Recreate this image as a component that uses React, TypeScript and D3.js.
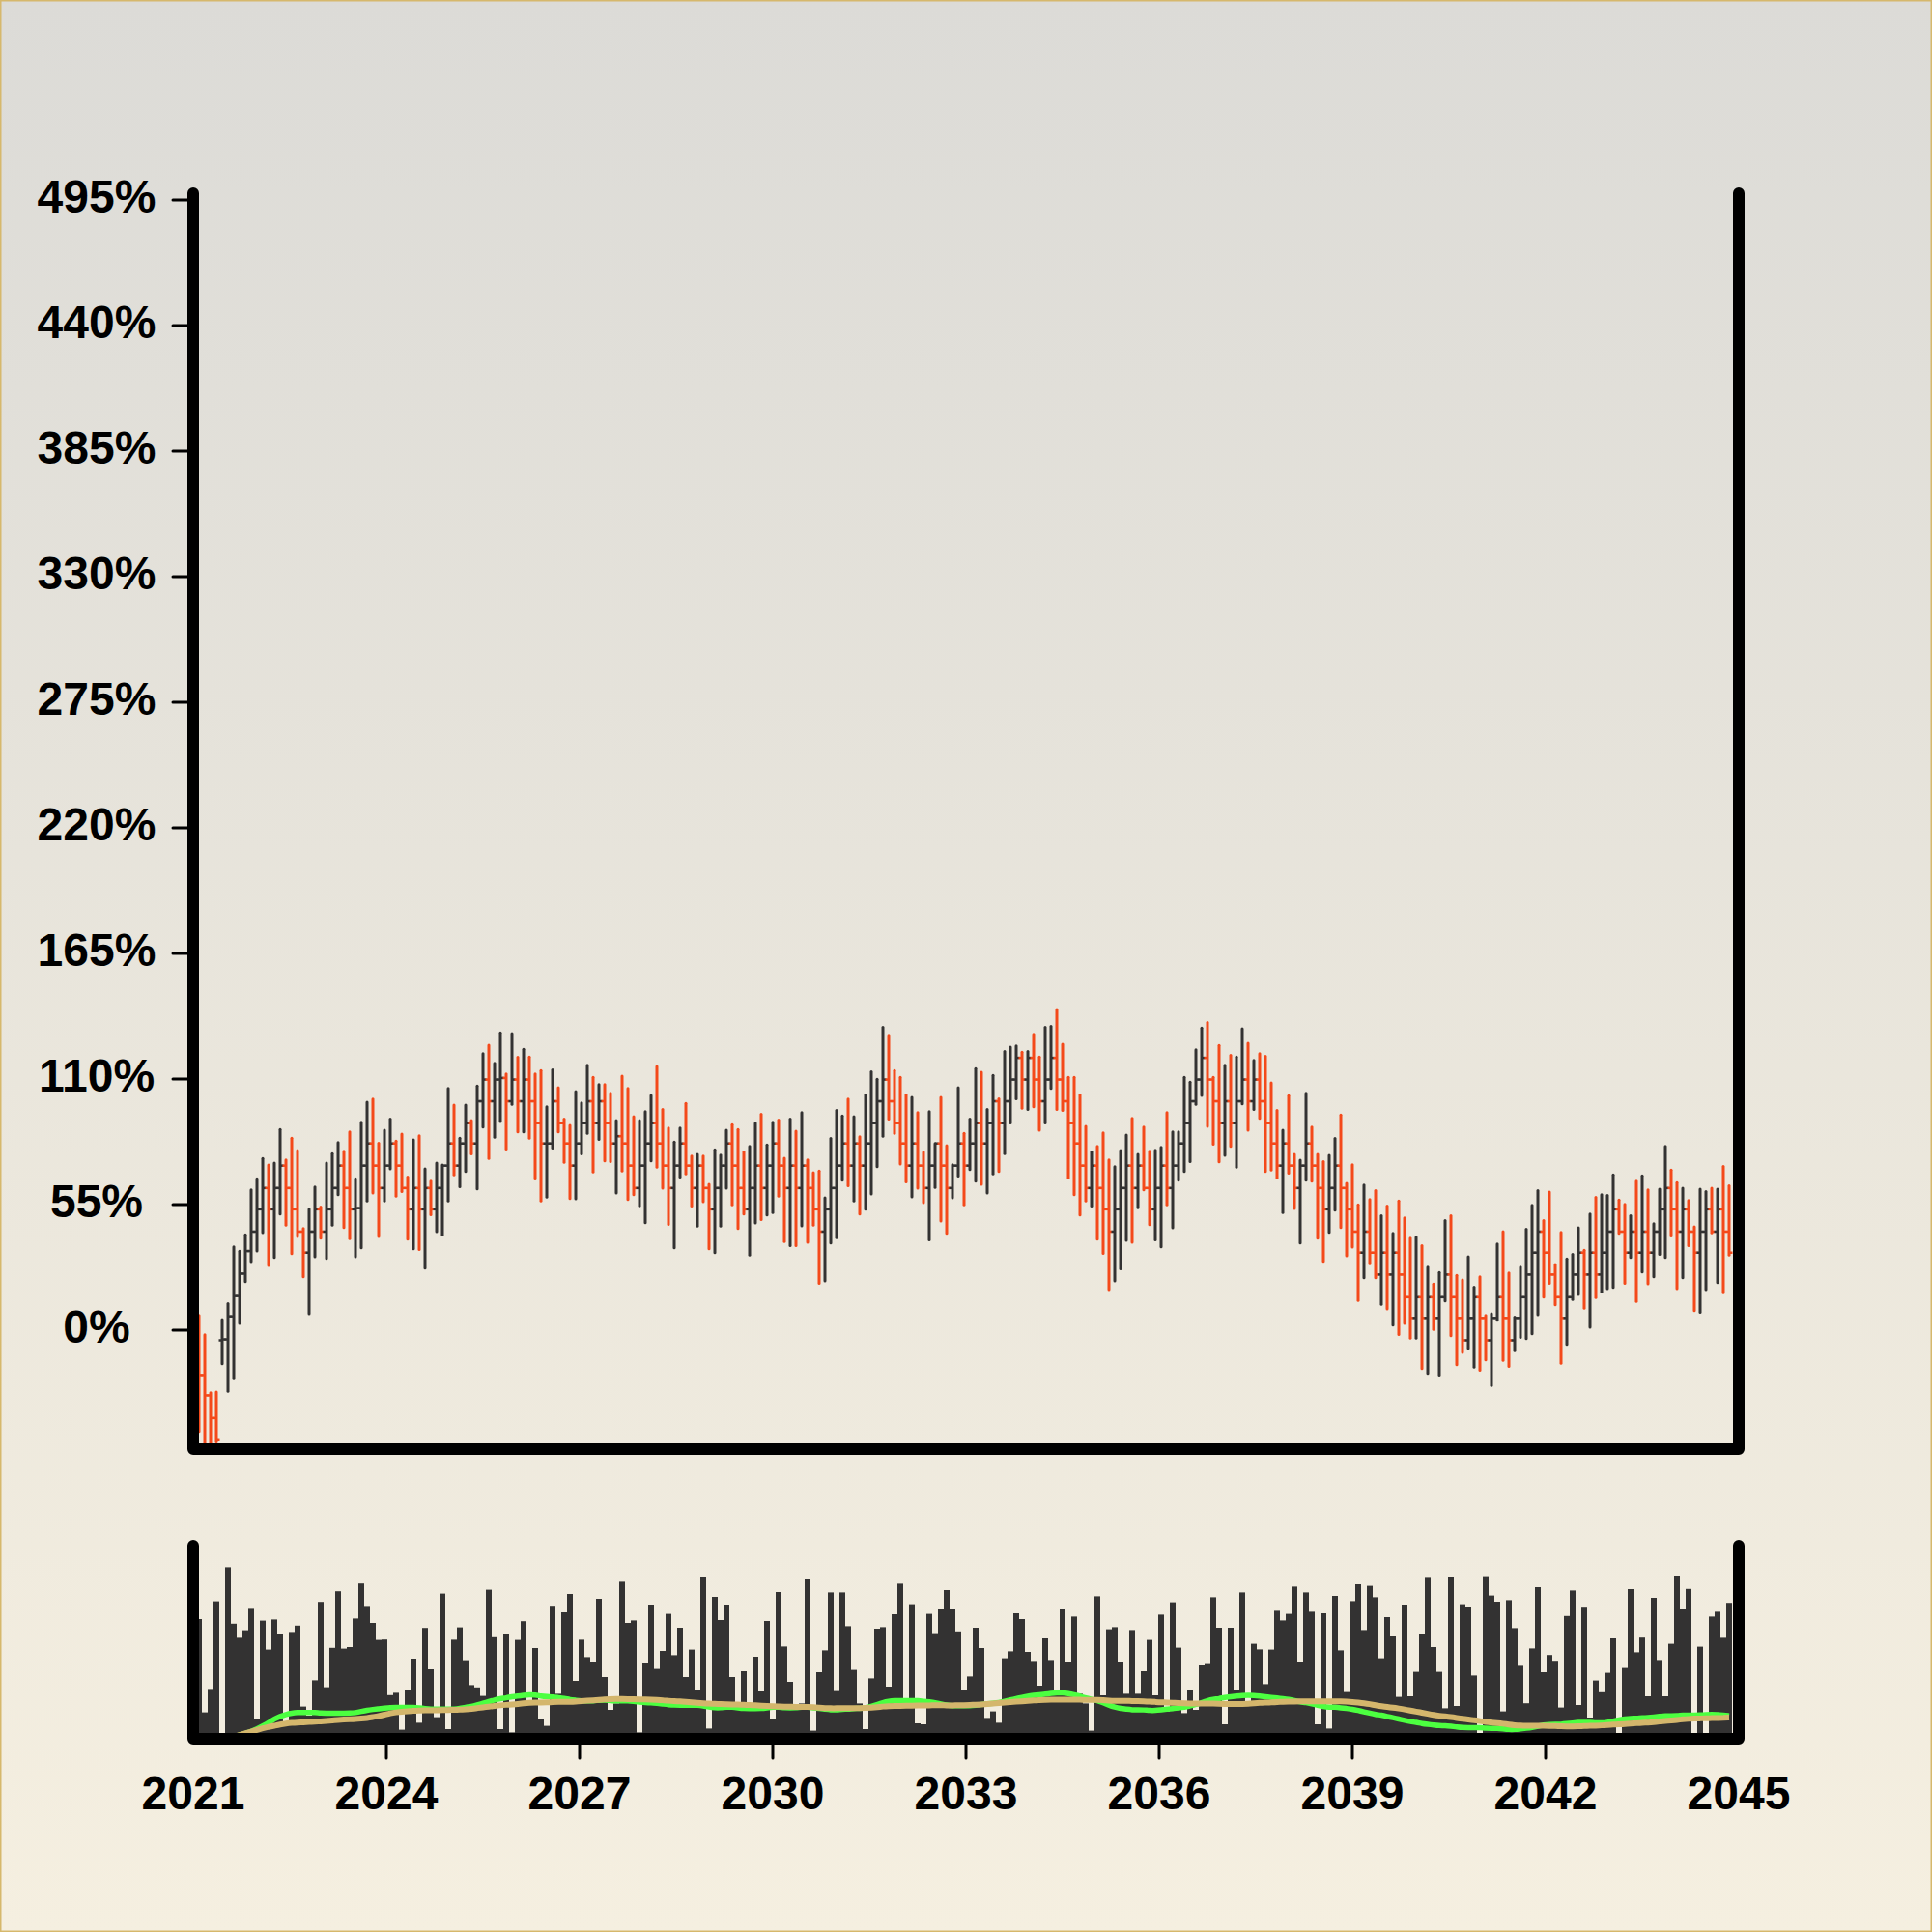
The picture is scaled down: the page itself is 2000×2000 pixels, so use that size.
import React, { useEffect } from 'react';
import * as d3 from 'd3';

// ---- data (percent values) ----
const OPEN = [
  -2, -19.6, -28.5, -38.4, -4.4, -4.0, 6.1, 15.0, 24.8, 34.7,
  43.2, 53.0, 62.3, 53.0, 62.3, 72.1, 62.3, 53.0, 43.2, 34.0,
  43.2, 53.0, 43.2, 53.0, 62.3, 72.1, 62.3, 53.0, 53.5, 72.1,
  81.8, 72.1, 62.3, 72.1, 81.8, 72.1, 62.3, 53.0, 62.3, 53.0,
  62.3, 53.0, 62.3, 72.1, 81.8, 72.1, 81.8, 90.7, 81.8, 100.3,
  109.8, 100.3, 109.8, 110.5, 100.3, 109.8, 100.3, 109.8, 100.3, 90.7,
  81.8, 81.8, 100.3, 90.7, 81.8, 72.1, 81.8, 90.7, 100.3, 90.7,
  100.3, 90.7, 81.8, 85.0, 81.8, 72.1, 62.3, 72.1, 81.8, 90.7,
  81.8, 72.1, 62.3, 72.1, 81.8, 72.1, 62.3, 72.1, 62.3, 53.0,
  62.3, 72.1, 81.8, 72.1, 62.3, 53.0, 62.3, 72.1, 62.3, 72.1,
  81.8, 72.1, 62.3, 72.1, 62.3, 72.1, 62.3, 53.0, 43.2, 53.0,
  62.3, 72.1, 81.8, 72.1, 81.8, 72.1, 81.8, 90.7, 100.3, 109.8,
  100.3, 90.7, 81.8, 72.1, 81.8, 72.1, 62.3, 72.1, 81.8, 72.1,
  62.3, 72.1, 81.8, 72.1, 81.8, 90.7, 81.8, 90.7, 100.3, 90.7,
  100.3, 109.8, 119.3, 109.8, 119.3, 109.8, 100.3, 109.8, 119.3, 109.8,
  100.3, 90.7, 81.8, 72.1, 62.3, 72.1, 62.3, 53.0, 43.2, 53.0,
  62.3, 72.1, 62.3, 72.1, 62.3, 53.0, 62.3, 72.1, 62.3, 72.1,
  81.8, 90.7, 100.3, 109.8, 119.3, 109.8, 100.3, 90.7, 100.3, 90.7,
  100.3, 109.8, 100.3, 109.8, 100.3, 90.7, 81.8, 72.1, 81.8, 72.1,
  62.3, 72.1, 81.8, 72.1, 62.3, 53.0, 62.3, 72.1, 62.3, 53.0,
  43.2, 34.0, 43.2, 34.0, 24.4, 34.0, 24.4, 34.0, 24.4, 14.5,
  5.4, 14.5, 5.4, 14.5, 5.4, 14.5, 24.4, 14.5, 5.4, -4.4,
  5.4, 14.5, 5.4, -4.4, 5.4, 14.5, 5.4, -4.4, 5.4, 14.5,
  24.4, 34.0, 43.2, 34.0, 24.4, 14.5, 5.4, 14.5, 24.4, 34.0,
  24.4, 34.0, 24.4, 34.0, 43.2, 53.0, 43.2, 34.0, 43.2, 34.0,
  43.2, 34.0, 43.2, 53.0, 62.3, 53.0, 43.2, 53.0, 43.2, 34.0,
  43.2, 53.0, 43.2, 53.0, 43.2,
];

const HIGH = [
  6.5, -2.0, -27.4, -27.0, 4.7, 11.7, 36.5, 34.6, 41.8, 61.5,
  66.4, 75.2, 72.4, 73.2, 87.9, 74.6, 84.1, 78.7, 44.6, 53.0,
  62.8, 54.0, 73.2, 77.4, 82.2, 78.4, 86.9, 66.4, 91.1, 99.9,
  101.3, 81.9, 87.6, 92.5, 82.9, 85.9, 67.1, 83.4, 85.2, 70.7,
  65.3, 73.2, 72.4, 105.9, 98.6, 84.1, 98.6, 91.8, 107.0, 121.1,
  124.8, 116.9, 130.2, 112.3, 129.9, 119.6, 123.1, 119.7, 112.3, 113.7,
  97.9, 114.1, 106.2, 92.5, 89.7, 104.5, 99.6, 116.1, 110.8, 107.6,
  107.6, 103.8, 91.8, 111.3, 105.9, 93.5, 91.8, 95.8, 102.8, 115.5,
  96.7, 88.6, 82.4, 88.6, 99.4, 76.3, 77.0, 76.3, 63.9, 79.1,
  76.7, 87.6, 90.0, 87.9, 78.1, 80.5, 90.7, 94.6, 81.2, 91.1,
  92.1, 75.3, 92.5, 87.2, 95.3, 74.6, 69.0, 69.7, 58.0, 84.0,
  96.3, 93.9, 101.3, 93.5, 84.8, 103.1, 113.2, 109.9, 132.7, 129.2,
  113.7, 110.8, 103.1, 102.0, 95.3, 78.0, 95.8, 81.8, 102.0, 80.8,
  72.5, 106.2, 86.2, 92.5, 114.6, 113.0, 96.7, 111.6, 101.4, 122.1,
  124.0, 124.5, 121.8, 122.1, 129.6, 119.7, 132.7, 133.1, 140.5, 125.3,
  110.8, 110.8, 103.1, 89.3, 78.1, 80.5, 86.5, 74.6, 71.6, 78.7,
  85.5, 92.8, 77.0, 89.0, 78.4, 78.8, 80.1, 95.3, 86.9, 86.9,
  110.8, 108.7, 122.8, 132.4, 134.8, 110.8, 124.7, 116.1, 120.4, 119.7,
  132.0, 125.7, 118.2, 121.1, 120.0, 108.3, 96.3, 87.6, 102.7, 77.0,
  74.5, 103.8, 89.0, 77.0, 73.9, 76.6, 84.0, 94.3, 64.3, 72.5,
  54.9, 63.6, 57.3, 61.2, 50.2, 54.4, 42.5, 56.6, 49.2, 40.3,
  40.8, 37.1, 27.6, 20.2, 25.3, 48.1, 50.2, 24.1, 22.0, 32.2,
  18.9, 23.4, 6.5, 7.2, 37.8, 43.2, 25.1, 5.8, 27.6, 44.3,
  54.7, 61.2, 48.1, 60.5, 28.8, 42.9, 31.2, 33.2, 44.9, 35.0,
  50.9, 58.2, 59.4, 59.1, 68.1, 57.0, 55.1, 50.2, 65.3, 67.6,
  61.5, 46.7, 61.8, 80.5, 70.2, 64.7, 62.2, 56.8, 45.3, 61.8,
  60.8, 62.2, 61.8, 71.8, 63.3,
];

const LOW = [
  -44.3, -60, -60, -48.8, -14.7, -26.7, -21.2, 3.0, 21.3, 30.1,
  34.7, 42.8, 28.4, 31.9, 50.9, 46.0, 33.6, 41.1, 23.4, 7.2,
  32.2, 40.3, 31.5, 46.0, 59.4, 45.0, 40.1, 32.2, 36.1, 56.6,
  60.1, 41.1, 56.6, 70.7, 58.7, 60.8, 39.9, 35.7, 35.4, 27.2,
  50.6, 43.2, 41.8, 56.6, 68.1, 62.9, 69.5, 77.3, 61.9, 89.0,
  75.2, 84.5, 91.4, 79.4, 98.9, 86.9, 86.9, 84.1, 66.2, 56.6,
  58.3, 79.8, 86.9, 73.5, 57.7, 57.6, 77.3, 86.2, 69.3, 83.6,
  74.2, 73.9, 60.1, 69.7, 57.3, 59.4, 54.5, 47.1, 74.2, 71.4,
  62.2, 46.4, 36.1, 67.1, 68.5, 54.4, 45.6, 56.3, 35.7, 34.0,
  45.6, 62.2, 54.9, 44.6, 50.9, 32.9, 47.0, 48.5, 50.5, 51.6,
  58.7, 38.9, 37.1, 37.1, 45.7, 38.5, 46.0, 20.6, 21.6, 38.2,
  40.6, 65.7, 63.3, 56.6, 50.9, 53.0, 59.7, 71.6, 85.0, 92.5,
  86.2, 72.8, 65.0, 58.4, 62.2, 55.9, 39.6, 62.6, 47.8, 42.5,
  58.0, 67.5, 54.9, 70.4, 65.3, 63.9, 60.1, 68.5, 69.5, 77.4,
  90.8, 101.4, 97.2, 96.7, 97.9, 87.6, 90.8, 105.9, 96.7, 96.3,
  66.7, 59.4, 50.5, 56.6, 54.4, 39.9, 33.7, 17.8, 21.6, 26.9,
  39.4, 38.5, 53.7, 61.5, 46.3, 39.6, 36.5, 54.9, 44.9, 65.7,
  69.5, 73.9, 98.9, 102.8, 89.3, 81.5, 73.8, 76.6, 80.5, 71.4,
  99.1, 87.6, 96.7, 92.8, 69.5, 70.2, 66.7, 51.6, 68.8, 53.3,
  38.2, 65.7, 65.3, 40.3, 30.2, 42.9, 52.6, 45.0, 32.6, 36.4,
  13.1, 23.0, 29.1, 23.0, 11.4, 9.3, 2.3, -1.9, 3.0, -3.4,
  -3.4, -16.8, -18.9, 0.4, -19.6, 12.8, -2.4, -15.1, -9.7, -7.9,
  -16.1, -17.5, -13.0, -24.2, 4.4, -13.2, -15.8, -9.0, -3.1, -3.7,
  -1.5, 6.8, 14.5, 20.6, 11.1, -14.4, -6.2, 13.5, 15.7, 9.7,
  1.3, 14.3, 16.8, 18.2, 18.8, 42.5, 20.6, 31.9, 12.6, 25.5,
  20.3, 23.4, 33.3, 31.9, 41.3, 18.2, 23.0, 37.1, 8.6, 7.9,
  17.8, 42.7, 20.9, 16.4, 32.9,
];

const CLOSE = [
  -19.6, -28.5, -38.4, -48.1, -4.0, 6.1, 15.0, 24.8, 34.7, 43.2,
  53.0, 62.3, 53.0, 62.3, 72.1, 62.3, 53.0, 43.2, 34.0, 43.2,
  53.0, 43.2, 53.0, 62.3, 72.1, 62.3, 53.0, 53.5, 72.1, 81.8,
  72.1, 62.3, 72.1, 81.8, 72.1, 62.3, 53.0, 62.3, 53.0, 62.3,
  53.0, 62.3, 72.1, 81.8, 72.1, 81.8, 90.7, 81.8, 100.3, 109.8,
  100.3, 109.8, 110.5, 100.3, 109.8, 100.3, 109.8, 100.3, 90.7, 81.8,
  81.8, 100.3, 90.7, 81.8, 72.1, 81.8, 90.7, 100.3, 90.7, 100.3,
  90.7, 81.8, 85.0, 81.8, 72.1, 62.3, 72.1, 81.8, 90.7, 81.8,
  72.1, 62.3, 72.1, 81.8, 72.1, 62.3, 72.1, 62.3, 53.0, 62.3,
  72.1, 81.8, 72.1, 62.3, 53.0, 62.3, 72.1, 62.3, 72.1, 81.8,
  72.1, 62.3, 72.1, 62.3, 72.1, 62.3, 53.0, 43.2, 53.0, 62.3,
  72.1, 81.8, 72.1, 81.8, 72.1, 81.8, 90.7, 100.3, 109.8, 100.3,
  90.7, 81.8, 72.1, 81.8, 72.1, 62.3, 72.1, 81.8, 72.1, 62.3,
  72.1, 81.8, 72.1, 81.8, 90.7, 81.8, 90.7, 100.3, 90.7, 100.3,
  109.8, 119.3, 109.8, 119.3, 109.8, 100.3, 109.8, 119.3, 109.8, 100.3,
  90.7, 81.8, 72.1, 62.3, 72.1, 62.3, 53.0, 43.2, 53.0, 62.3,
  72.1, 62.3, 72.1, 62.3, 53.0, 62.3, 72.1, 62.3, 72.1, 81.8,
  90.7, 100.3, 109.8, 119.3, 109.8, 100.3, 90.7, 100.3, 90.7, 100.3,
  109.8, 100.3, 109.8, 100.3, 90.7, 81.8, 72.1, 81.8, 72.1, 62.3,
  72.1, 81.8, 72.1, 62.3, 53.0, 62.3, 72.1, 62.3, 53.0, 43.2,
  34.0, 43.2, 34.0, 24.4, 34.0, 24.4, 34.0, 24.4, 14.5, 5.4,
  14.5, 5.4, 14.5, 5.4, 14.5, 24.4, 14.5, 5.4, -4.4, 5.4,
  14.5, 5.4, -4.4, 5.4, 14.5, 5.4, -4.4, 5.4, 14.5, 24.4,
  34.0, 43.2, 34.0, 24.4, 14.5, 5.4, 14.5, 24.4, 34.0, 24.4,
  34.0, 24.4, 34.0, 43.2, 53.0, 43.2, 34.0, 43.2, 34.0, 43.2,
  34.0, 43.2, 53.0, 62.3, 53.0, 43.2, 53.0, 43.2, 34.0, 43.2,
  53.0, 43.2, 53.0, 43.2, 34.0,
];

const VOLUME = [
  62, 13.7, 25.8, 71.2, 1, 88.8, 59.6, 52.3, 56.2, 67.3,
  10.4, 61.2, 46.2, 61.8, 54, 9, 55.3, 58.6, 16.7, 12,
  30.3, 70.9, 26.7, 47.1, 76.4, 46.7, 47.5, 62.3, 80.4, 68.3,
  60, 51.2, 51.4, 22.6, 23.8, 4.7, 25.3, 41.5, 8.3, 57.4,
  36, 11.2, 75.2, 5, 51.3, 57.7, 40.7, 27.8, 26.6, 22.2,
  77.2, 52.6, 5, 54.2, 3.3, 51.2, 60.9, 18, 47, 10.3,
  6.7, 68.4, 23.3, 65.5, 75, 30, 51.3, 42.3, 39.7, 72.5,
  32, 15, 18.3, 81.3, 60, 61.3, 3.3, 39, 69.5, 36.2,
  45.5, 64.7, 43.3, 57.5, 32, 46.2, 25, 84, 5.3, 73.5,
  61.5, 69, 32, 15, 35, 18.3, 42.5, 24.5, 61, 10.3,
  76, 47.8, 29.5, 16.7, 18.3, 82.5, 4.2, 34.5, 45.8, 75.8,
  24.7, 75.8, 58.3, 35.7, 18.3, 5, 31.3, 57, 57.8, 27,
  64.5, 80.3, 16.7, 69.7, 8, 7.5, 64.7, 54.7, 67, 77,
  67, 55.6, 25, 32.3, 57.5, 47, 10.8, 14.2, 8.3, 41.7,
  45.3, 65, 62, 45, 40.3, 27.5, 52, 40.8, 25.3, 67,
  40, 63.3, 23.3, 18.3, 4.2, 73.8, 22.5, 56.7, 57.8, 39.5,
  23.3, 56.3, 23.3, 35, 51.2, 22.5, 64.3, 14.2, 70.7, 47.2,
  13.3, 25.3, 15, 38, 38.7, 73.3, 57.5, 7.5, 57.5, 25,
  75.8, 18.3, 49.2, 46.3, 28.3, 46.2, 66.3, 61.3, 64.7, 78.8,
  40, 75.8, 65.8, 7.5, 65, 5.3, 74, 45.8, 24.2, 71.3,
  80, 56.3, 79.2, 73.3, 41.7, 63, 53, 21.7, 69.3, 22,
  34.7, 54.2, 83.3, 47.5, 34.7, 15.8, 83.7, 17, 69.7, 68,
  32.8, 1, 84.2, 74.2, 71, 14.2, 71.8, 57.3, 37.8, 18.4,
  46.8, 78.5, 34.5, 43.4, 40.4, 16.2, 63.6, 76.8, 17.5, 67.9,
  11, 30.2, 24.1, 34.2, 52, 1, 36.7, 77.5, 44.8, 52.4,
  22, 73, 40.8, 22, 49.2, 84.5, 67, 77.6, 1, 47.7,
  1, 63.3, 65.8, 52.3, 70.4,
];

const Y_TICKS = [0, 55, 110, 165, 220, 275, 330, 385, 440, 495];
const X_TICKS = [2021, 2024, 2027, 2030, 2033, 2036, 2039, 2042, 2045];
const START_YEAR = 2021;
const END_YEAR = 2045;
const PERIOD_YEARS = 0.09; // spacing between bars
const MA_FAST = 10;
const MA_SLOW = 30;

const DARK = '#333232';
const ORANGE = '#f4491a';
const GREEN = '#4cff40';
const TAN = '#d4b66c';
const FONT = '"Liberation Sans", Arial, Helvetica, sans-serif';

function sma(values: number[], n: number): number[] {
  return values.map((_, i) => {
    const s = Math.max(0, i - n + 1);
    return d3.mean(values.slice(s, i + 1)) as number;
  });
}

export default function App() {
  useEffect(() => {
    document.body.style.margin = '0';
  }, []);

  const W = 2000;
  const H = 2000;
  const x = d3.scaleLinear().domain([START_YEAR, END_YEAR]).range([200, 1800]);
  const y = d3.scaleLinear().domain([-52, 498]).range([1500, 200]);
  const yVol = d3.scaleLinear().domain([0, 100]).range([1800, 1600]);
  const yMa = d3.scaleLinear().domain([-22.3, 536.4]).range([1800, 1600]).clamp(true);

  const bars = CLOSE.map((c, i) => ({
    t: START_YEAR + (i + 1) * PERIOD_YEARS,
    o: OPEN[i],
    h: HIGH[i],
    l: LOW[i],
    c,
    v: VOLUME[i],
  }));

  const fast = sma(CLOSE, MA_FAST);
  const slow = sma(CLOSE, MA_SLOW);
  const lineGen = d3
    .line<number>()
    .x((_, i) => x(bars[i].t))
    .y((d) => yMa(d))
    .curve(d3.curveBasis);

  return (
    <svg
      width={W}
      height={H}
      viewBox={`0 0 ${W} ${H}`}
      style={{ display: 'block', position: 'absolute', left: 0, top: 0 }}
    >
      <defs>
        <linearGradient id="bg" x1="0" y1="0" x2="0" y2="1">
          <stop offset="0%" stopColor="#dcdbd7" />
          <stop offset="100%" stopColor="#f5efe0" />
        </linearGradient>
        <clipPath id="plotClip">
          <rect x={200} y={200} width={1600} height={1300} />
        </clipPath>
        <clipPath id="volClip">
          <rect x={200} y={1590} width={1600} height={210} />
        </clipPath>
      </defs>
      <rect x={0} y={0} width={W} height={H} fill="url(#bg)" />
      <rect x={0.75} y={0.75} width={W - 1.5} height={H - 1.5} fill="none" stroke="#d6b86c" strokeWidth={1.5} />

      {/* volume */}
      <g clipPath="url(#volClip)">
        {bars.map((b, i) => (
          <rect
            key={i}
            x={x(b.t) - 3}
            y={yVol(b.v)}
            width={6}
            height={yVol(0) - yVol(b.v)}
            fill={DARK}
          />
        ))}
        <path d={lineGen(fast) || ''} fill="none" stroke={GREEN} strokeWidth={5.5} />
        <path d={lineGen(slow) || ''} fill="none" stroke={TAN} strokeWidth={6} />
      </g>

      {/* OHLC bars */}
      <g clipPath="url(#plotClip)">
        {bars.map((b, i) => {
          const cx = x(b.t);
          const col = b.c >= b.o ? DARK : ORANGE;
          return (
            <g key={i} stroke={col}>
              <line x1={cx} x2={cx} y1={y(b.h)} y2={y(b.l)} strokeWidth={3} strokeLinecap="round" />
              <line x1={cx - 3.5} x2={cx} y1={y(b.o)} y2={y(b.o)} strokeWidth={2.5} />
              <line x1={cx} x2={cx + 3.5} y1={y(b.c)} y2={y(b.c)} strokeWidth={2.5} />
            </g>
          );
        })}
      </g>

      {/* y ticks + labels */}
      {Y_TICKS.map((t) => (
        <g key={t}>
          <line x1={179} x2={200} y1={y(t)} y2={y(t)} stroke="#000" strokeWidth={3} strokeLinecap="round" />
          <text
            x={100}
            y={y(t) + 13}
            textAnchor="middle"
            fontFamily={FONT}
            fontWeight={700}
            fontSize={48}
            fill="#000"
          >
            {`${t}%`}
          </text>
        </g>
      ))}

      {/* x ticks + labels */}
      {X_TICKS.map((t, i) => (
        <g key={t}>
          {i > 0 && i < X_TICKS.length - 1 && (
            <line x1={x(t)} x2={x(t)} y1={1800} y2={1820} stroke="#000" strokeWidth={3} strokeLinecap="round" />
          )}
          <text
            x={x(t)}
            y={1873}
            textAnchor="middle"
            fontFamily={FONT}
            fontWeight={700}
            fontSize={48}
            fill="#000"
          >
            {t}
          </text>
        </g>
      ))}

      {/* frames */}
      <path
        d={`M${x(START_YEAR)},${y(498)} V${y(-52)} H${x(END_YEAR)} V${y(498)}`}
        fill="none"
        stroke="#000"
        strokeWidth={12}
        strokeLinecap="round"
        strokeLinejoin="round"
      />
      <path
        d={`M${x(START_YEAR)},${yVol(100)} V${yVol(0)} H${x(END_YEAR)} V${yVol(100)}`}
        fill="none"
        stroke="#000"
        strokeWidth={12}
        strokeLinecap="round"
        strokeLinejoin="round"
      />
    </svg>
  );
}
